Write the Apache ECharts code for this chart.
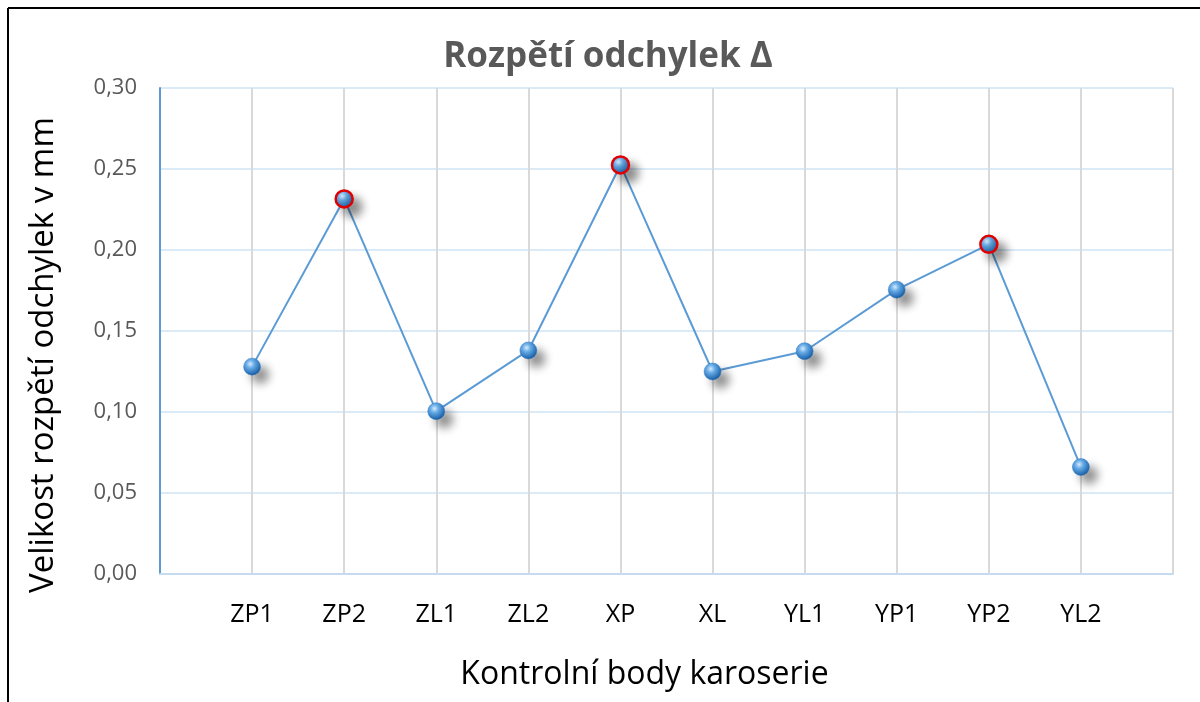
<!DOCTYPE html>
<html><head><meta charset="utf-8">
<script src="https://cdn.jsdelivr.net/npm/echarts@6/dist/echarts.min.js"></script>
<style>html,body{margin:0;padding:0;background:#fff}#c{width:1200px;height:702px}</style>
</head><body><div id="c"></div>
<script>
const categories = ['ZP1','ZP2','ZL1','ZL2','XP','XL','YL1','YP1','YP2','YL2'];
const values = [0.128, 0.2315, 0.1005, 0.138, 0.2525, 0.125, 0.1375, 0.1755, 0.2035, 0.066];
const highlighted = ['ZP2','XP','YP2'];
const yTicks = [0, 0.05, 0.10, 0.15, 0.20, 0.25, 0.30];

const axisCats = [''].concat(categories, ['']);
const sphere = {
  type: 'radial', x: 0.4, y: 0.35, r: 0.65,
  colorStops: [
    {offset: 0, color: '#d6ecff'},
    {offset: 0.35, color: '#6aaee8'},
    {offset: 0.8, color: '#2f78c0'},
    {offset: 1, color: '#1d5a9a'}
  ]
};
const seriesData = axisCats.map((c, i) => {
  if (i === 0 || i === axisCats.length - 1) return '-';
  const v = values[i - 1];
  if (highlighted.includes(c)) {
    return {value: v, itemStyle: {borderColor: '#e00000', borderWidth: 2.5}};
  }
  return v;
});

const chart = echarts.init(document.getElementById('c'));
chart.setOption({
  animation: false,
  backgroundColor: '#fff',
  title: {
    text: 'Rozpětí odchylek Δ',
    left: 603, top: 35, textAlign: 'center',
    textStyle: {fontFamily: 'Open Sans', fontWeight: 'bold', fontSize: 35, color: '#595959'}
  },
  grid: {left: 160, right: 27, top: 88, bottom: 128},
  xAxis: {
    type: 'category', data: axisCats, boundaryGap: false,
    name: 'Kontrolní body karoserie', nameLocation: 'middle', nameGap: 85,
    nameTextStyle: {fontFamily: 'Open Sans', fontSize: 32, color: '#000', padding: [0, 44, 0, 0]},
    axisLine: {lineStyle: {color: '#c5dcf0', width: 2}},
    axisTick: {show: false},
    axisLabel: {fontFamily: 'Open Sans', fontSize: 25, color: '#000', margin: 28, interval: 0},
    splitLine: {show: true, lineStyle: {color: '#d9d9d9', width: 2}}
  },
  yAxis: {
    type: 'value', min: 0, max: 0.3, interval: 0.05,
    name: 'Velikost rozpětí odchylek v mm', nameLocation: 'middle', nameGap: 100,
    nameTextStyle: {fontFamily: 'Open Sans', fontSize: 33, color: '#000', padding: [0, 48, 0, 0]},
    axisLine: {show: true, lineStyle: {color: '#5b9bd5', width: 2}},
    axisTick: {show: false},
    axisLabel: {fontFamily: 'Open Sans', fontSize: 22, color: '#595959', margin: 23,
      formatter: v => { const t = yTicks.find(x => Math.abs(x - v) < 1e-9); return (t !== undefined ? t : v).toFixed(2).replace('.', ','); }},
    splitLine: {lineStyle: {color: '#dbeaf7', width: 2}}
  },
  series: [{
    type: 'line', data: seriesData,
    symbol: 'circle', symbolSize: 17,
    lineStyle: {color: '#5b9bd5', width: 2},
    itemStyle: {color: sphere, borderColor: '#3a7cc0', borderWidth: 0.5,
      shadowColor: 'rgba(0,0,0,0.45)', shadowBlur: 10, shadowOffsetX: 8, shadowOffsetY: 8},
    z: 3
  }],
  graphic: [
    {type: 'line', shape: {x1: 8, y1: 8, x2: 8, y2: 702}, style: {stroke: '#000', lineWidth: 2}},
    {type: 'line', shape: {x1: 8, y1: 8, x2: 1200, y2: 8}, style: {stroke: '#000', lineWidth: 2}}
  ]
});
</script></body></html>
